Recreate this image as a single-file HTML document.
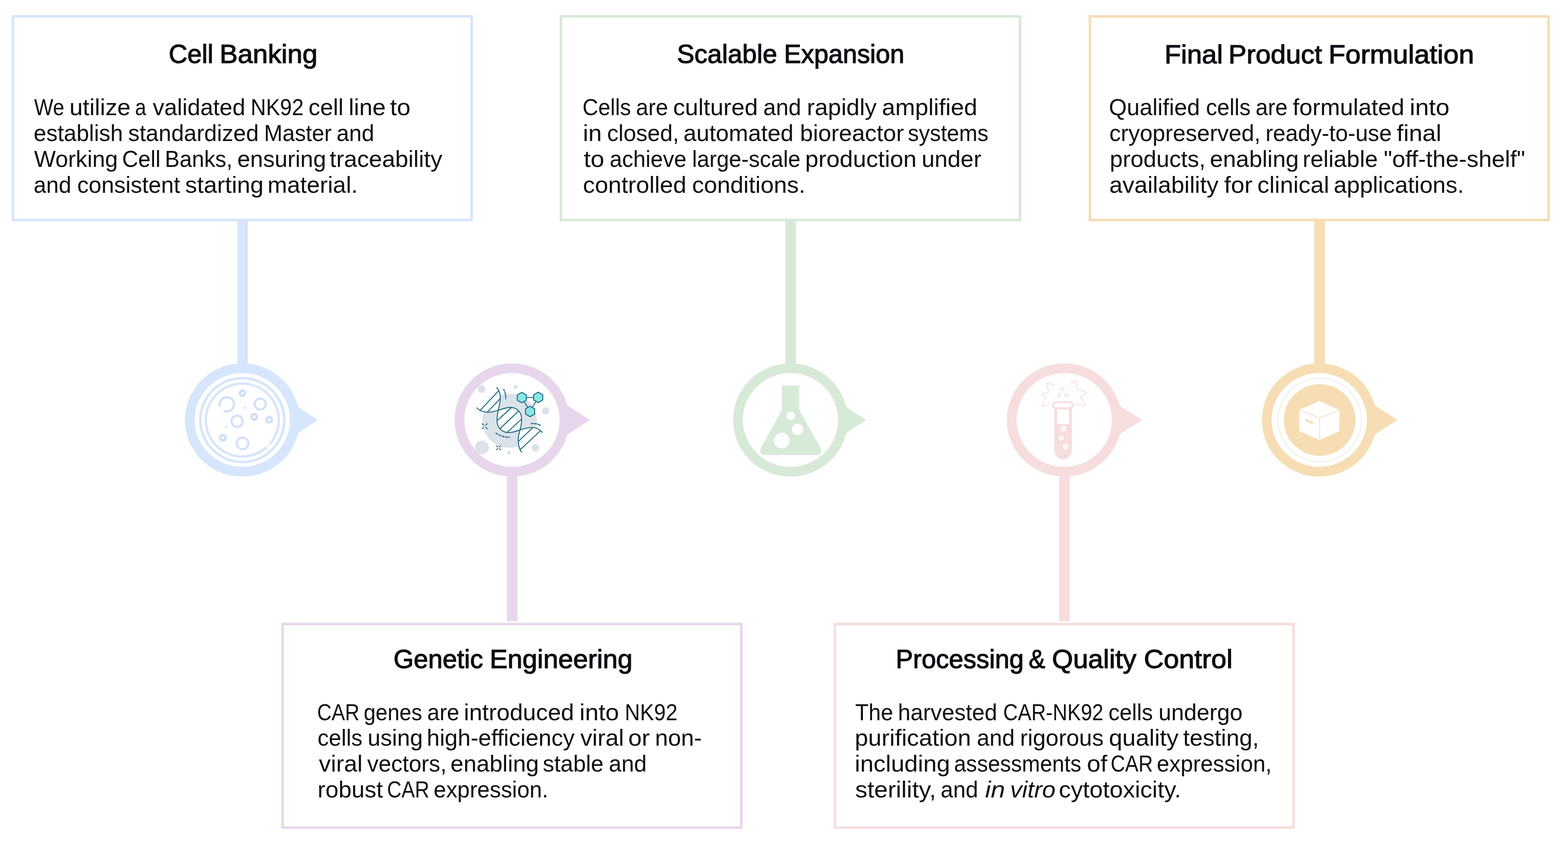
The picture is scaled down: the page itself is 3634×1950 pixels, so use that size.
<!DOCTYPE html>
<html lang="en">
<head>
<meta charset="utf-8">
<title>CAR-NK92 manufacturing workflow</title>
<style>
*{box-sizing:border-box;margin:0;padding:0}
html,body{width:3634px;height:1950px;background:#fff}
body{position:relative;font-family:"Liberation Sans",sans-serif;color:#0c0e13}
.card{position:absolute;border-style:solid;border-width:6px;background:#fff}
.t,.l{position:absolute;white-space:pre;line-height:1;transform-origin:0 0}
.t{font-size:61px;font-weight:400;-webkit-text-stroke:1.5px #0c0e13}
.l{font-size:54px;font-weight:400}
.w{display:inline-block;transform-origin:0 50%}
.l i{font-style:italic}
svg.art{position:absolute;left:0;top:0;width:3634px;height:1950px;display:block}
</style>
</head>
<body>
<svg class="art" viewBox="0 0 3634 1950" width="3634" height="1950">
<g id="pin-b1" fill="#d6e6fc" stroke="none">
<rect x="549.80" y="512.00" width="24.6" height="336.50"/>
<ellipse cx="561.50" cy="973.8" rx="121.70" ry="120.00" fill="none" stroke="#d6e6fc" stroke-width="22.6"/>
<path d="M680.93 942.02 L689.92 939.62 Q690.91 943.50 695.24 946.39 L736.30 973.80 L695.24 1001.21 Q690.91 1004.10 689.92 1007.98 L680.93 1005.58 Z"/>
</g>
<g id="pin-b2" fill="#e8d7ec" stroke="none">
<rect x="1174.80" y="1099.10" width="24.6" height="341.50"/>
<ellipse cx="1186.50" cy="973.8" rx="121.70" ry="120.00" fill="none" stroke="#e8d7ec" stroke-width="22.6"/>
<path d="M1304.94 938.60 L1313.85 935.95 Q1314.96 939.80 1319.32 942.64 L1367.10 973.80 L1319.32 1004.96 Q1314.96 1007.80 1313.85 1011.65 L1304.94 1009.00 Z"/>
</g>
<g id="pin-b3" fill="#d7ead8" stroke="none">
<rect x="1820.30" y="512.00" width="24.6" height="336.50"/>
<ellipse cx="1832.00" cy="973.8" rx="121.70" ry="120.00" fill="none" stroke="#d7ead8" stroke-width="22.6"/>
<path d="M1951.50 942.29 L1960.50 939.92 Q1961.48 943.80 1965.84 946.64 L2007.60 973.80 L1965.84 1000.96 Q1961.48 1003.80 1960.50 1007.68 L1951.50 1005.31 Z"/>
</g>
<g id="pin-b4" fill="#f6dede" stroke="none">
<rect x="2454.80" y="1099.10" width="24.6" height="341.50"/>
<ellipse cx="2466.50" cy="973.8" rx="121.70" ry="120.00" fill="none" stroke="#f6dede" stroke-width="22.6"/>
<path d="M2585.35 939.99 L2594.30 937.44 Q2595.36 941.30 2599.77 944.05 L2647.50 973.80 L2599.77 1003.55 Q2595.36 1006.30 2594.30 1010.16 L2585.35 1007.61 Z"/>
</g>
<g id="pin-b5" fill="#f6ddb4" stroke="none">
<rect x="3045.80" y="512.00" width="24.6" height="336.50"/>
<ellipse cx="3057.50" cy="973.8" rx="121.70" ry="120.00" fill="none" stroke="#f6ddb4" stroke-width="22.6"/>
<path d="M3175.94 938.60 L3184.85 935.95 Q3185.96 939.80 3190.33 942.63 L3238.50 973.80 L3190.33 1004.97 Q3185.96 1007.80 3184.85 1011.65 L3175.94 1009.00 Z"/>
</g>
<g id="icon-petri">
<circle cx="561.6" cy="974.0" r="97.3" fill="none" stroke="#d6e6fc" stroke-width="6"/>
<path d="M617.66 1037.36 A84.6 84.6 0 1 1 624.96 1030.06" fill="none" stroke="#d6e6fc" stroke-width="5.6" stroke-linecap="butt"/>
<path d="M622.46 1032.77 A84.6 84.6 0 0 1 620.37 1034.86" fill="none" stroke="#d6e6fc" stroke-width="5.6" stroke-linecap="butt"/>
<circle cx="561.6" cy="911.8" r="5.7" fill="none" stroke="#d0e0f7" stroke-width="6.2"/>
<circle cx="603.0" cy="936.9" r="12.7" fill="none" stroke="#d0e0f7" stroke-width="4.8"/>
<circle cx="549.4" cy="976.7" r="13.0" fill="none" stroke="#d0e0f7" stroke-width="4.8"/>
<circle cx="589.2" cy="966.2" r="6.2" fill="none" stroke="#d0e0f7" stroke-width="6.0"/>
<circle cx="623.7" cy="973.0" r="6.2" fill="none" stroke="#d0e0f7" stroke-width="6.0"/>
<circle cx="516.7" cy="1014.9" r="6.2" fill="none" stroke="#d0e0f7" stroke-width="6.0"/>
<circle cx="562.1" cy="1028.0" r="13.4" fill="none" stroke="#d0e0f7" stroke-width="5.0"/>
<path d="M510.01 942.63 A16.6 16.6 0 1 1 518.26 952.29" fill="none" stroke="#d0e0f7" stroke-width="5.0" stroke-linecap="butt"/>
<circle cx="567.7" cy="945.5" r="2.4" fill="#d0e0f7"/>
<path d="M524.2 986.3 L526.9 991 L521.5 991 Z" fill="#d0e0f7"/>
</g>
<g transform="translate(1086 874) scale(0.14472)" id="icon-dna">
<circle cx="655" cy="702" r="435" fill="#dbe2e9"/>
<circle cx="210" cy="195" r="60" fill="#dbe2e9"/>
<circle cx="752" cy="160" r="32" fill="#dbe2e9"/>
<circle cx="1232" cy="545" r="58" fill="#dbe2e9"/>
<circle cx="215" cy="1130" r="110" fill="#dbe2e9"/>
<circle cx="1072" cy="1135" r="62" fill="#dbe2e9"/>
<circle cx="645" cy="1212" r="28" fill="#dbe2e9"/>
<path d="M185 535 L480 225 C510 290 512 350 500 420 C490 470 478 510 470 545 C400 565 300 575 185 535 Z" fill="#fff"/>
<path d="M470 545 C450 640 445 760 500 835 C540 880 600 895 650 890 C710 880 780 855 822 845 C850 760 860 650 830 585 C790 500 700 475 610 495 C560 505 520 525 470 545 Z" fill="#fff"/>
<path d="M822 845 C880 830 960 810 1040 805 C1100 805 1150 850 1178 888 L848 1205 C810 1140 785 1040 800 940 C805 905 812 875 822 845 Z" fill="#fff"/>
<line x1="185" y1="535" x2="480" y2="225" stroke="#1b6781" stroke-width="15" stroke-linecap="round"/>
<line x1="300" y1="562" x2="505" y2="350" stroke="#1b6781" stroke-width="15" stroke-linecap="round"/>
<line x1="470" y1="690" x2="690" y2="488" stroke="#1b6781" stroke-width="15" stroke-linecap="round"/>
<line x1="500" y1="832" x2="800" y2="545" stroke="#1b6781" stroke-width="15" stroke-linecap="round"/>
<line x1="622" y1="885" x2="838" y2="682" stroke="#1b6781" stroke-width="15" stroke-linecap="round"/>
<line x1="800" y1="1030" x2="1030" y2="812" stroke="#1b6781" stroke-width="15" stroke-linecap="round"/>
<line x1="830" y1="1162" x2="1150" y2="862" stroke="#1b6781" stroke-width="15" stroke-linecap="round"/>
<path d="M130 495 C175 545 250 568 330 565 C430 560 520 515 610 495 C700 475 790 500 830 585 C865 660 845 780 815 880 C790 965 790 1060 810 1125 C820 1160 832 1185 848 1205" fill="none" stroke="#1b6781" stroke-width="15" stroke-linecap="round"/>
<path d="M450 170 C500 225 515 300 505 385 C495 470 460 570 455 670 C450 770 490 850 580 882 C670 912 780 860 880 832 C960 810 1040 800 1100 825 C1135 840 1160 865 1178 888" fill="none" stroke="#1b6781" stroke-width="15" stroke-linecap="round"/>
<path d="M562 200 C585 245 598 300 595 352" fill="none" stroke="#1b6781" stroke-width="17" stroke-dasharray="30 22" stroke-linecap="round"/>
<path d="M440 900 C500 945 580 968 655 965" fill="none" stroke="#1b6781" stroke-width="17" stroke-dasharray="32 24" stroke-linecap="round"/>
<path d="M1005 748 C1065 742 1120 755 1160 782" fill="none" stroke="#1b6781" stroke-width="17" stroke-dasharray="32 24" stroke-linecap="round"/>
<line x1="274.0" y1="806.0" x2="300.0" y2="832.0" stroke="#1b6781" stroke-width="14" stroke-linecap="round"/>
<line x1="274.0" y1="774.0" x2="300.0" y2="748.0" stroke="#1b6781" stroke-width="14" stroke-linecap="round"/>
<line x1="242.0" y1="806.0" x2="216.0" y2="832.0" stroke="#1b6781" stroke-width="14" stroke-linecap="round"/>
<line x1="242.0" y1="774.0" x2="216.0" y2="748.0" stroke="#1b6781" stroke-width="14" stroke-linecap="round"/>
<line x1="492.2" y1="1147.2" x2="512.0" y2="1167.0" stroke="#1b6781" stroke-width="14" stroke-linecap="round"/>
<line x1="492.2" y1="1122.8" x2="512.0" y2="1103.0" stroke="#1b6781" stroke-width="14" stroke-linecap="round"/>
<line x1="467.8" y1="1147.2" x2="448.0" y2="1167.0" stroke="#1b6781" stroke-width="14" stroke-linecap="round"/>
<line x1="467.8" y1="1122.8" x2="448.0" y2="1103.0" stroke="#1b6781" stroke-width="14" stroke-linecap="round"/>
<line x1="852" y1="330" x2="1115" y2="328" stroke="#1b6781" stroke-width="15"/>
<line x1="852" y1="330" x2="985" y2="553" stroke="#1b6781" stroke-width="15"/>
<line x1="1115" y1="328" x2="985" y2="553" stroke="#1b6781" stroke-width="15"/>
<polygon points="852.0,246.0 924.7,288.0 924.7,372.0 852.0,414.0 779.3,372.0 779.3,288.0" fill="#8be6e0" stroke="#1b6781" stroke-width="15" stroke-linejoin="round"/>
<polygon points="1115.0,244.0 1187.7,286.0 1187.7,370.0 1115.0,412.0 1042.3,370.0 1042.3,286.0" fill="#8be6e0" stroke="#1b6781" stroke-width="15" stroke-linejoin="round"/>
<polygon points="985.0,469.0 1057.7,511.0 1057.7,595.0 985.0,637.0 912.3,595.0 912.3,511.0" fill="#8be6e0" stroke="#1b6781" stroke-width="15" stroke-linejoin="round"/>
</g>
<g transform="translate(1732 874) scale(0.14472)" id="icon-flask">
<path d="M553 138 H832 V530 L1172 1135 Q1215 1250 1095 1250 H295 Q175 1250 218 1135 L553 530 Z" fill="#d7ead8"/>
<circle cx="692" cy="622" r="68" fill="#fff"/>
<circle cx="805" cy="840" r="90" fill="#fff"/>
<circle cx="552" cy="1020" r="125" fill="#fff"/>
</g>
<g transform="translate(2366 874) scale(0.14472)" id="icon-tube">
<path d="M545 135 L410 90 L445 250 L340 270 L405 330 L330 470 L465 425" fill="none" stroke="#f5e0e1" stroke-width="15" stroke-linejoin="miter"/>
<path d="M775 130 L880 50 L905 200 L1055 245 L955 325 L1040 450 L870 445" fill="none" stroke="#f5e0e1" stroke-width="15" stroke-linejoin="miter"/>
<circle cx="660" cy="195" r="26" fill="none" stroke="#f5e0e1" stroke-width="15"/>
<circle cx="610" cy="295" r="26" fill="none" stroke="#f5e0e1" stroke-width="15"/>
<circle cx="735" cy="295" r="26" fill="none" stroke="#f5e0e1" stroke-width="15"/>
<path d="M535 470 H815 V1180 A140 140 0 0 1 535 1180 Z" fill="#f6dede"/>
<rect x="580" y="520" width="190" height="235" fill="#fff"/>
<rect x="513" y="403" width="316" height="100" rx="50" ry="50" fill="#fff" stroke="#f6dede" stroke-width="30"/>
<circle cx="680" cy="830" r="45" fill="#fff"/><circle cx="680" cy="830" r="16" fill="#f6dede"/>
<circle cx="648" cy="978" r="40" fill="#fff"/><circle cx="648" cy="978" r="14" fill="#f6dede"/>
<circle cx="718" cy="1115" r="45" fill="#fff"/><circle cx="718" cy="1115" r="16" fill="#f6dede"/>
</g>
<g transform="translate(2957 874) scale(0.14472)" id="icon-box">
<circle cx="702" cy="690" r="668" fill="none" stroke="#ebe4d4" stroke-width="9"/>
<circle cx="702" cy="690" r="574" fill="#f6ddb4"/>
<polygon points="700,385 1020,530 1015,870 700,1010 375,865 375,530" fill="#fff"/>
<path d="M375 530 L700 655 L1020 530 M700 655 V1010" fill="none" stroke="#f6ddb4" stroke-width="12"/>
<polygon points="470,668 596,720 592,756 468,704" fill="#f6ddb4"/>
</g>
</svg>
<section class="card" id="b1" style="left:27px;top:35px;width:1069px;height:478px;border-color:#d6e6fc">
<h2 class="t" id="t0" style="left:358.13px;top:54.30px"><span class="w" style="transform:scaleX(0.9831)">Cell</span> <span class="w" style="transform:scaleX(1.0293);margin-left:-4.37px">Banking</span></h2>
<p class="l" id="l0" style="left:46.40px;top:179.80px"><span class="w" style="transform:scaleX(0.8730)">We</span> <span class="w" style="transform:scaleX(1.0260);margin-left:-13.67px">utilize</span> <span class="w" style="transform:scaleX(0.8600);margin-left:-0.48px">a</span> <span class="w" style="transform:scaleX(0.9921);margin-left:-4.22px">validated</span> <span class="w" style="transform:scaleX(0.9080);margin-left:-4.20px">NK92</span> <span class="w" style="transform:scaleX(0.9992);margin-left:-15.87px">cell</span> <span class="w" style="transform:scaleX(1.0231);margin-left:-3.98px">line</span> <span class="w" style="transform:scaleX(1.0551);margin-left:-2.83px">to</span></p>
<p class="l" id="l1" style="left:44.93px;top:239.90px"><span class="w" style="transform:scaleX(0.9712)">establish</span> <span class="w" style="transform:scaleX(0.9786);margin-left:-8.91px">standardized</span> <span class="w" style="transform:scaleX(0.9488);margin-left:-9.17px">Master</span> <span class="w" style="transform:scaleX(0.9692);margin-left:-12.32px">and</span></p>
<p class="l" id="l2" style="left:46.35px;top:299.90px"><span class="w" style="transform:scaleX(0.9850)">Working</span> <span class="w" style="transform:scaleX(0.9568);margin-left:-8.54px">Cell</span> <span class="w" style="transform:scaleX(0.9495);margin-left:-8.55px">Banks,</span> <span class="w" style="transform:scaleX(0.9935);margin-left:-12.86px">ensuring</span> <span class="w" style="transform:scaleX(1.0114);margin-left:-7.98px">traceability</span></p>
<p class="l" id="l3" style="left:45.29px;top:360.00px"><span class="w" style="transform:scaleX(0.9678)">and</span> <span class="w" style="transform:scaleX(0.9811);margin-left:-4.04px">consistent</span> <span class="w" style="transform:scaleX(1.0274);margin-left:-8.58px">starting</span> <span class="w" style="transform:scaleX(1.0102);margin-left:-1.48px">material.</span></p>
</section>
<section class="card" id="b2" style="left:652px;top:1444px;width:1069px;height:478px;border-color:#e8d7ec">
<h2 class="t" id="t3" style="left:254.36px;top:47.60px"><span class="w" style="transform:scaleX(0.9870)">Genetic</span> <span class="w" style="transform:scaleX(1.0169);margin-left:-4.48px">Engineering</span></h2>
<p class="l" id="l12" style="left:77.26px;top:173.60px"><span class="w" style="transform:scaleX(0.8600)">CAR</span> <span class="w" style="transform:scaleX(0.9194);margin-left:-21.44px">genes</span> <span class="w" style="transform:scaleX(0.9551);margin-left:-14.94px">are</span> <span class="w" style="transform:scaleX(1.0131);margin-left:-7.84px">introduced</span> <span class="w" style="transform:scaleX(1.0540);margin-left:0.68px">into</span> <span class="w" style="transform:scaleX(0.9044);margin-left:2.64px">NK92</span></p>
<p class="l" id="l13" style="left:78.48px;top:233.30px"><span class="w" style="transform:scaleX(0.9631)">cells</span> <span class="w" style="transform:scaleX(0.9913);margin-left:-7.55px">using</span> <span class="w" style="transform:scaleX(0.9957);margin-left:-6.75px">high-efficiency</span> <span class="w" style="transform:scaleX(1.0205);margin-left:-3.41px">viral</span> <span class="w" style="transform:scaleX(1.0416);margin-left:-2.86px">or</span> <span class="w" style="transform:scaleX(1.0033);margin-left:-1.79px">non-</span></p>
<p class="l" id="l14" style="left:80.85px;top:293.30px"><span class="w" style="transform:scaleX(1.0235)">viral</span> <span class="w" style="transform:scaleX(0.9732);margin-left:-2.33px">vectors,</span> <span class="w" style="transform:scaleX(1.0040);margin-left:-10.81px">enabling</span> <span class="w" style="transform:scaleX(0.9776);margin-left:-4.72px">stable</span> <span class="w" style="transform:scaleX(0.9750);margin-left:-6.93px">and</span></p>
<p class="l" id="l15" style="left:77.94px;top:353.40px"><span class="w" style="transform:scaleX(1.0082)">robust</span> <span class="w" style="transform:scaleX(0.8600);margin-left:-3.76px">CAR</span> <span class="w" style="transform:scaleX(0.9618);margin-left:-21.84px">expression.</span></p>
</section>
<section class="card" id="b3" style="left:1297px;top:35px;width:1070px;height:478px;border-color:#d7ead8">
<h2 class="t" id="t1" style="left:266.35px;top:54.30px"><span class="w" style="transform:scaleX(0.9919)">Scalable</span> <span class="w" style="transform:scaleX(0.9796);margin-left:-3.22px">Expansion</span></h2>
<p class="l" id="l4" style="left:47.39px;top:179.80px"><span class="w" style="transform:scaleX(0.9340)">Cells</span> <span class="w" style="transform:scaleX(0.9511);margin-left:-11.04px">are</span> <span class="w" style="transform:scaleX(1.0223);margin-left:-7.10px">cultured</span> <span class="w" style="transform:scaleX(0.9733);margin-left:1.20px">and</span> <span class="w" style="transform:scaleX(1.0174);margin-left:-4.24px">rapidly</span> <span class="w" style="transform:scaleX(1.0228);margin-left:0.21px">amplified</span></p>
<p class="l" id="l5" style="left:47.74px;top:239.90px"><span class="w" style="transform:scaleX(1.0411)">in</span> <span class="w" style="transform:scaleX(0.9735);margin-left:-0.91px">closed,</span> <span class="w" style="transform:scaleX(0.9992);margin-left:-8.72px">automated</span> <span class="w" style="transform:scaleX(1.0033);margin-left:-0.84px">bioreactor</span> <span class="w" style="transform:scaleX(0.9431);margin-left:-5.17px">systems</span></p>
<p class="l" id="l6" style="left:49.86px;top:299.90px"><span class="w" style="transform:scaleX(1.0554)">to</span> <span class="w" style="transform:scaleX(0.9567);margin-left:0.55px">achieve</span> <span class="w" style="transform:scaleX(0.9509);margin-left:-10.75px">large-scale</span> <span class="w" style="transform:scaleX(1.0237);margin-left:-16.88px">production</span> <span class="w" style="transform:scaleX(1.0030);margin-left:2.75px">under</span></p>
<p class="l" id="l7" style="left:48.26px;top:360.00px"><span class="w" style="transform:scaleX(1.0241)">controlled</span> <span class="w" style="transform:scaleX(1.0171);margin-left:3.73px">conditions.</span></p>
</section>
<section class="card" id="b4" style="left:1932px;top:1444px;width:1069px;height:478px;border-color:#f6dede">
<h2 class="t" id="t4" style="left:138.38px;top:47.50px"><span class="w" style="transform:scaleX(0.9832)">Processing</span> <span class="w" style="transform:scaleX(0.9480);margin-left:-10.66px">&amp;</span> <span class="w" style="transform:scaleX(1.0303);margin-left:-4.10px">Quality</span> <span class="w" style="transform:scaleX(1.0460);margin-left:5.82px">Control</span></h2>
<p class="l" id="l16" style="left:43.99px;top:173.60px"><span class="w" style="transform:scaleX(0.9434)">The</span> <span class="w" style="transform:scaleX(0.9699);margin-left:-9.02px">harvested</span> <span class="w" style="transform:scaleX(0.8694);margin-left:-8.65px">CAR-NK92</span> <span class="w" style="transform:scaleX(0.9534);margin-left:-37.24px">cells</span> <span class="w" style="transform:scaleX(0.9829);margin-left:-7.79px">undergo</span></p>
<p class="l" id="l17" style="left:43.12px;top:233.30px"><span class="w" style="transform:scaleX(1.0325)">purification</span> <span class="w" style="transform:scaleX(0.9728);margin-left:6.59px">and</span> <span class="w" style="transform:scaleX(0.9929);margin-left:-5.14px">rigorous</span> <span class="w" style="transform:scaleX(1.0348);margin-left:-4.35px">quality</span> <span class="w" style="transform:scaleX(1.0089);margin-left:1.53px">testing,</span></p>
<p class="l" id="l18" style="left:43.22px;top:293.30px"><span class="w" style="transform:scaleX(1.0363)">including</span> <span class="w" style="transform:scaleX(0.9360);margin-left:2.03px">assessments</span> <span class="w" style="transform:scaleX(1.0479);margin-left:-22.85px">of</span> <span class="w" style="transform:scaleX(0.8600);margin-left:-4.75px">CAR</span> <span class="w" style="transform:scaleX(0.9645);margin-left:-21.66px">expression,</span></p>
<p class="l" id="l19" style="left:43.89px;top:353.40px"><span class="w" style="transform:scaleX(1.0468)">sterility,</span> <span class="w" style="transform:scaleX(0.9649);margin-left:4.17px">and</span> <i class="w" style="transform:scaleX(1.1049);margin-left:-2.16px">in</i> <i class="w" style="transform:scaleX(1.0311);margin-left:0.97px">vitro</i> <span class="w" style="transform:scaleX(1.0299);margin-left:-3.98px">cytotoxicity.</span></p>
</section>
<section class="card" id="b5" style="left:2523px;top:35px;width:1069px;height:478px;border-color:#f6ddb4">
<h2 class="t" id="t2" style="left:170.19px;top:54.60px"><span class="w" style="transform:scaleX(1.0217)">Final</span> <span class="w" style="transform:scaleX(1.0316);margin-left:-0.91px">Product</span> <span class="w" style="transform:scaleX(1.0475);margin-left:4.85px">Formulation</span></h2>
<p class="l" id="l8" style="left:41.28px;top:179.80px"><span class="w" style="transform:scaleX(0.9894)">Qualified</span> <span class="w" style="transform:scaleX(0.9568);margin-left:-3.62px">cells</span> <span class="w" style="transform:scaleX(0.9492);margin-left:-7.92px">are</span> <span class="w" style="transform:scaleX(1.0140);margin-left:-7.30px">formulated</span> <span class="w" style="transform:scaleX(1.0598);margin-left:0.76px">into</span></p>
<p class="l" id="l9" style="left:41.57px;top:239.90px"><span class="w" style="transform:scaleX(0.9812)">cryopreserved,</span> <span class="w" style="transform:scaleX(0.9644);margin-left:-10.19px">ready-to-use</span> <span class="w" style="transform:scaleX(1.0449);margin-left:-14.12px">final</span></p>
<p class="l" id="l10" style="left:42.78px;top:299.90px"><span class="w" style="transform:scaleX(0.9992)">products,</span> <span class="w" style="transform:scaleX(1.0091);margin-left:-4.44px">enabling</span> <span class="w" style="transform:scaleX(1.0004);margin-left:-4.37px">reliable</span> <span class="w" style="transform:scaleX(1.0159);margin-left:-1.26px">"off-the-shelf"</span></p>
<p class="l" id="l11" style="left:42.29px;top:360.00px"><span class="w" style="transform:scaleX(1.0154)">availability</span> <span class="w" style="transform:scaleX(1.0463);margin-left:1.67px">for</span> <span class="w" style="transform:scaleX(1.0272);margin-left:-1.39px">clinical</span> <span class="w" style="transform:scaleX(1.0053);margin-left:0.19px">applications.</span></p>
</section>
</body>
</html>
